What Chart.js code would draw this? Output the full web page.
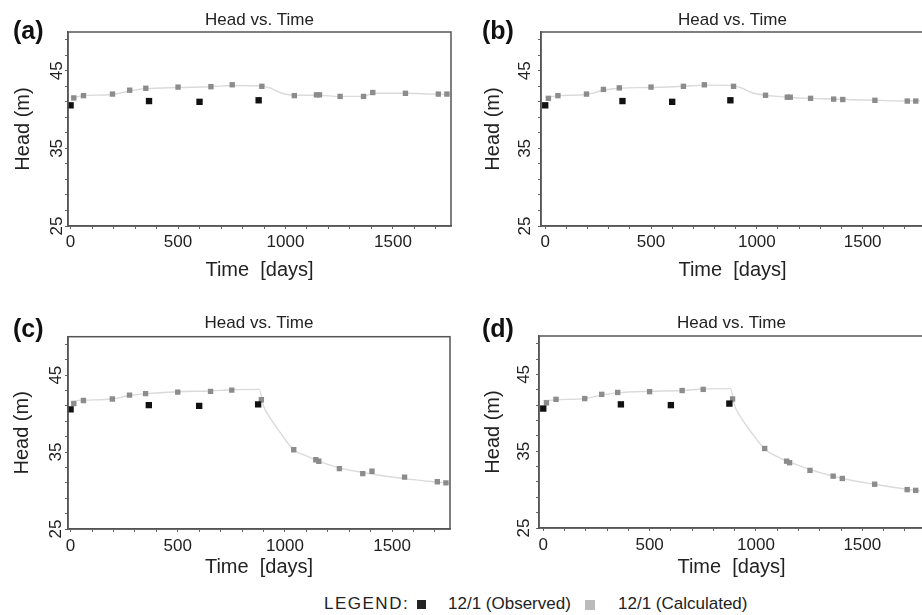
<!DOCTYPE html>
<html>
<head>
<meta charset="utf-8">
<script src="https://cdn.jsdelivr.net/npm/chart.js@4/dist/chart.umd.min.js"></script>
<style>
  html, body { margin: 0; padding: 0; background: #fff; }
  body { width: 922px; height: 615px; overflow: hidden; position: relative;
         font-family: 'Liberation Sans', Arial, sans-serif; color: #222; }
  canvas { position: absolute; }
  .tag { position: absolute; font-weight: bold; font-size: 25px; line-height: 25px; color: #111; }
  .lg { position: absolute; top: 594px; font-size: 17px; line-height: 20px; white-space: pre; }
  .sw { position: absolute; }
</style>
</head>
<body>
<canvas id="pa" width="460" height="290" style="left:0;top:0"></canvas>
<canvas id="pb" width="473" height="290" style="left:460px;top:0"></canvas>
<canvas id="pc" width="460" height="290" style="left:0;top:290px"></canvas>
<canvas id="pd" width="473" height="290" style="left:460px;top:290px"></canvas>

<div class="tag" style="left:13px;top:18px">(a)</div>
<div class="tag" style="left:482px;top:18px">(b)</div>
<div class="tag" style="left:13px;top:316px">(c)</div>
<div class="tag" style="left:482px;top:316px">(d)</div>

<div class="lg" style="left:324px;letter-spacing:1.5px">LEGEND:</div>
<div class="sw" style="left:417px;top:600px;width:9px;height:9px;background:#222"></div>
<div class="lg" style="left:448px">12/1 (Observed)</div>
<div class="sw" style="left:585px;top:600px;width:10px;height:10px;background:#bbb"></div>
<div class="lg" style="left:618px">12/1 (Calculated)</div>

<script>
// observation times and heads (same for every panel)
const obsDays = [0, 365, 600, 875];
const obsHead = [40.55, 41.1, 41.0, 41.2];

// calculated heads at the output times
const calcDays = [15, 60, 195, 275, 350, 500, 653, 752, 890, 1041, 1144, 1158, 1254, 1363, 1406, 1558, 1711, 1751];
const calcHeadA = [41.5, 41.8, 42.0, 42.5, 42.75, 42.9, 42.95, 43.2, 43.0, 41.8, 41.9, 41.9, 41.7, 41.7, 42.2, 42.1, 42.0, 42.0];
const calcHeadB = [41.45, 41.8, 42.0, 42.6, 42.8, 42.9, 43.0, 43.2, 43.0, 41.85, 41.6, 41.6, 41.45, 41.35, 41.3, 41.2, 41.1, 41.1];
const calcHeadC = [41.3, 41.7, 41.9, 42.4, 42.6, 42.8, 42.9, 43.05, 41.8, 35.3, 34.0, 33.8, 32.85, 32.2, 32.5, 31.75, 31.15, 31.0];
const calcHeadD = [41.3, 41.75, 41.85, 42.4, 42.65, 42.75, 42.9, 43.05, 41.8, 35.35, 33.7, 33.5, 32.5, 31.75, 31.45, 30.7, 30.0, 29.9];

// simulated head curve (light grey line)
const lineDays = [0, 15, 60, 195, 275, 350, 500, 653, 752, 880, 900, 927, 974, 1041, 1100, 1150, 1254, 1363, 1406, 1558, 1711, 1770];
const lineHeadA = [41.6, 41.6, 41.8, 41.95, 42.4, 42.7, 42.85, 42.95, 43.1, 43.05, 43.0, 42.8, 42.2, 41.85, 41.85, 41.85, 41.7, 41.7, 42.1, 42.1, 42.0, 42.0];
const lineHeadB = [41.6, 41.6, 41.8, 41.95, 42.5, 42.75, 42.85, 43.0, 43.15, 43.1, 43.0, 42.8, 42.2, 41.85, 41.7, 41.6, 41.45, 41.35, 41.3, 41.2, 41.1, 41.1];
const lineHeadC = [41.6, 41.65, 41.75, 41.9, 42.35, 42.6, 42.85, 42.95, 43.1, 43.15, 41.0, 39.6, 37.7, 35.3, 34.5, 33.9, 32.95, 32.35, 32.15, 31.55, 31.1, 30.95];
const lineHeadD = [41.6, 41.6, 41.7, 41.85, 42.3, 42.6, 42.8, 42.9, 43.1, 43.15, 40.9, 39.5, 37.6, 35.3, 34.3, 33.7, 32.6, 31.75, 31.45, 30.7, 30.05, 29.85];

// axes
const xTickValues = [0, 100, 200, 300, 400, 500, 600, 700, 800, 900, 1000, 1100, 1200, 1300, 1400, 1500, 1600, 1700];
const xTickLabels = [0, 500, 1000, 1500];
const yTickValues = [25, 27, 29, 31, 33, 35, 37, 39, 41, 43, 45, 47, 49];
const yTickLabels = [25, 35, 45];

const FONT = "'Liberation Sans', Arial, sans-serif";
Chart.defaults.font.family = FONT;
Chart.defaults.color = '#222';

const frame = {
  id: 'frame',
  afterDatasetsDraw(chart) {
    const a = chart.chartArea, c = chart.ctx;
    c.save();
    c.strokeStyle = '#555';
    c.lineWidth = 1.5;
    c.strokeRect(a.left, a.top, a.right - a.left, a.bottom - a.top);
    c.restore();
  }
};

function pts(xs, ys) {
  return xs.map((x, i) => ({x: x, y: ys[i]}));
}

function panel(id, calc, line, p) {
  new Chart(document.getElementById(id), {
    type: 'scatter',
    data: {
      datasets: [
        {
          label: '12/1 (Observed)',
          data: pts(obsDays, obsHead),
          pointStyle: 'rect',
          pointRadius: 4.5,
          backgroundColor: '#111',
          borderWidth: 0
        },
        {
          label: '12/1 (Calculated)',
          data: pts(calcDays, calc),
          pointStyle: 'rect',
          pointRadius: 3.8,
          backgroundColor: '#8c8c8c',
          borderWidth: 0
        },
        {
          type: 'line',
          data: pts(lineDays, line),
          borderColor: '#dadada',
          borderWidth: 1.4,
          pointRadius: 0,
          cubicInterpolationMode: 'monotone',
          fill: false
        }
      ]
    },
    options: {
      responsive: false,
      animation: false,
      events: [],
      layout: { padding: { left: 0, top: 0, bottom: 0, right: p.padRight } },
      plugins: {
        legend: { display: false },
        tooltip: { enabled: false },
        title: {
          display: true,
          text: 'Head vs. Time',
          fullSize: false,
          color: '#222',
          font: { size: 17, weight: 'normal' },
          padding: { top: p.titleTop, bottom: p.titleBottom }
        }
      },
      scales: {
        x: {
          type: 'linear',
          min: p.xMin,
          max: p.xMax,
          afterBuildTicks: s => { s.ticks = xTickValues.map(v => ({value: v})); },
          afterFit: s => { s.height = p.xH; },
          grid: { display: true, drawOnChartArea: false, drawTicks: true, tickLength: 3, color: '#666' },
          border: { display: true, color: '#555', width: 1.5 },
          ticks: {
            autoSkip: false, maxRotation: 0, padding: p.xTickPad, color: '#222',
            font: { size: 17 },
            callback: v => xTickLabels.includes(v) ? String(v) : ''
          },
          title: {
            display: true, text: 'Time  [days]', color: '#222',
            font: { size: 20 },
            padding: { top: 0, bottom: p.xTitlePad }
          }
        },
        y: {
          type: 'linear',
          min: 25,
          max: 50,
          afterBuildTicks: s => { s.ticks = yTickValues.map(v => ({value: v})); },
          afterFit: s => { s.width = p.yW; },
          grid: { display: true, drawOnChartArea: false, drawTicks: true, tickLength: 3, color: '#666' },
          border: { display: true, color: '#555', width: 1.5 },
          ticks: {
            autoSkip: false, minRotation: 90, maxRotation: 90, crossAlign: 'center',
            padding: p.yTickPad, color: '#222',
            font: { size: 17 },
            callback: v => yTickLabels.includes(v) ? String(v) : ''
          },
          title: {
            display: true, text: 'Head (m)', color: '#222',
            font: { size: 20 },
            padding: { top: p.yTitlePad, bottom: 0 }
          }
        }
      }
    },
    plugins: [frame]
  });
}

panel('pa', calcHeadA, lineHeadA, { xMin: -12, xMax: 1770, padRight: 9, yW: 68, xH: 64,
  titleTop: 9.8, titleBottom: 1.8, xTickPad: 3, xTitlePad: 8, yTitlePad: 11.5, yTickPad: -1.5 });
panel('pb', calcHeadB, lineHeadB, { xMin: -20, xMax: 1790, padRight: 9, yW: 81, xH: 64,
  titleTop: 9.8, titleBottom: 1.8, xTickPad: 3, xTitlePad: 8, yTitlePad: 21.5, yTickPad: 3.5 });
panel('pc', calcHeadC, lineHeadC, { xMin: -12, xMax: 1770, padRight: 10, yW: 68, xH: 51,
  titleTop: 22.8, titleBottom: 3.5, xTickPad: 4, xTitlePad: 1, yTitlePad: 10.5, yTickPad: -0.5 });
panel('pd', calcHeadD, lineHeadD, { xMin: -20, xMax: 1790, padRight: 9, yW: 79, xH: 52,
  titleTop: 22.8, titleBottom: 2.8, xTickPad: 4, xTitlePad: 1, yTitlePad: 21.5, yTickPad: 2.5 });
</script>
</body>
</html>
